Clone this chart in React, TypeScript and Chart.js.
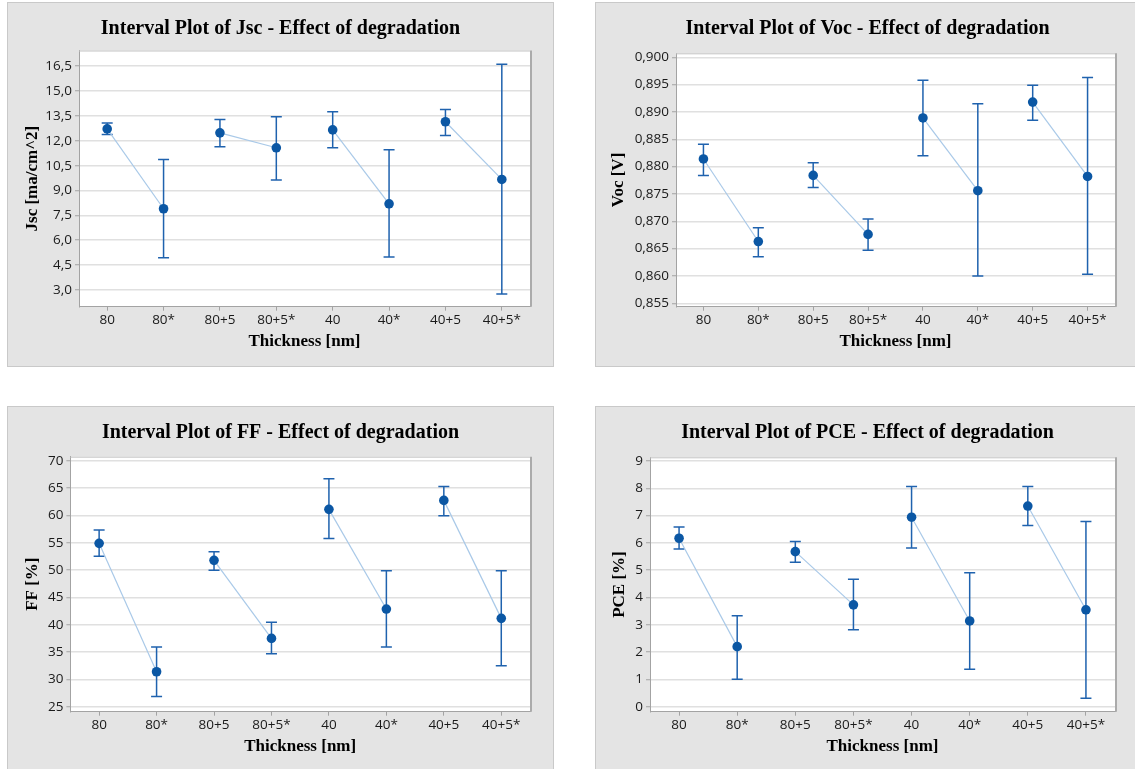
import React, { useEffect, useRef } from 'react';
import { Chart, registerables } from 'chart.js';

Chart.register(...registerables);

// ---------- data ----------
const categories = ['80', '80*', '80+5', '80+5*', '40', '40*', '40+5', '40+5*'];

const jscMean = [12.72, 7.9, 12.48, 11.58, 12.66, 8.2, 13.15, 9.67];
const jscLower = [12.38, 4.95, 11.64, 9.63, 11.58, 4.99, 12.32, 2.76];
const jscUpper = [13.07, 10.88, 13.29, 13.45, 13.75, 11.46, 13.89, 16.62];
const jscTicks = [3.0, 4.5, 6.0, 7.5, 9.0, 10.5, 12.0, 13.5, 15.0, 16.5];
const jscRange = [1.99, 17.45];

const vocMean = [0.8814, 0.8663, 0.8784, 0.8676, 0.8889, 0.8756, 0.8918, 0.8782];
const vocLower = [0.8784, 0.8635, 0.8762, 0.8647, 0.882, 0.86, 0.8885, 0.8603];
const vocUpper = [0.8841, 0.8688, 0.8807, 0.8704, 0.8958, 0.8915, 0.8949, 0.8963];
const vocTicks = [0.855, 0.86, 0.865, 0.87, 0.875, 0.88, 0.885, 0.89, 0.895, 0.9];
const vocRange = [0.85438, 0.90073];

const ffMean = [54.88, 31.4, 51.77, 37.5, 61.1, 42.87, 62.74, 41.16];
const ffLower = [52.5, 26.89, 49.94, 34.7, 55.79, 35.91, 59.94, 32.5];
const ffUpper = [57.32, 35.91, 53.35, 40.43, 66.71, 49.88, 65.3, 49.88];
const ffTicks = [25, 30, 35, 40, 45, 50, 55, 60, 65, 70];
const ffRange = [24.09, 70.73];

const pceMean = [6.17, 2.2, 5.68, 3.73, 6.94, 3.14, 7.35, 3.55];
const pceLower = [5.78, 1.01, 5.29, 2.82, 5.81, 1.37, 6.64, 0.31];
const pceUpper = [6.58, 3.33, 6.05, 4.67, 8.07, 4.91, 8.07, 6.78];
const pceTicks = [0, 1, 2, 3, 4, 5, 6, 7, 8, 9];
const pceRange = [-0.183, 9.135];

// ---------- styles ----------
const LINE_COLOR = '#a9c9e8';
const POINT_COLOR = '#0b57a4';
const BAR_COLOR = '#1f62ae';
const AXIS_COLOR = '#a3a3a3';
const GRID_COLOR = '#e0e0e0';
const TICK_FONT = { family: "'Open Sans', 'Noto Sans', sans-serif", size: 13.5 };
const SERIF = "'Liberation Serif', 'DejaVu Serif', serif";

type Box = { left: number; top: number; width: number; height: number };
type Plot = { left: number; top: number; right: number; bottom: number };

type PanelProps = {
  title: string;
  yTitle: string;
  mean: number[];
  lower: number[];
  upper: number[];
  ticks: number[];
  range: number[];
  fmt: (v: number) => string;
  box: Box;
  plot: Plot;
  titleY: number;
  yTitleX: number;
  xTitleY: number;
};

function Panel(p: PanelProps) {
  const ref = useRef<HTMLCanvasElement>(null);
  const cx = p.box.left + 1;
  const cy = p.box.top + 1;
  const cw = p.box.width - 2;
  const ch = p.box.height - 2;

  useEffect(() => {
    if (!ref.current) return;
    const plotLeft = p.plot.left - cx;
    const plotTop = p.plot.top - cy;
    const plotRightPad = cw - (p.plot.right - cx);
    const plotBottom = p.plot.bottom - cy;
    const yTitlePad = p.yTitleX - cx - 10.2;
    const xTitlePad = ch - (p.xTitleY - cy) - 10.2;

    const bgPlugin = {
      id: 'plotBg',
      beforeDraw(chart: any) {
        const { ctx, chartArea: a } = chart;
        ctx.save();
        ctx.fillStyle = '#ffffff';
        ctx.fillRect(a.left, a.top, a.right - a.left, a.bottom - a.top);
        ctx.restore();
      },
    };

    const errPlugin = {
      id: 'errBars',
      beforeDatasetsDraw(chart: any) {
        const { ctx } = chart;
        const xs = chart.scales.x;
        const ys = chart.scales.y;
        const cap = 5.5;
        ctx.save();
        ctx.strokeStyle = BAR_COLOR;
        ctx.lineWidth = 1.5;
        p.lower.forEach((lo, i) => {
          const px = xs.getPixelForValue(i);
          const pl = ys.getPixelForValue(lo);
          const ph = ys.getPixelForValue(p.upper[i]);
          ctx.beginPath();
          ctx.moveTo(px, pl);
          ctx.lineTo(px, ph);
          ctx.moveTo(px - cap, pl);
          ctx.lineTo(px + cap, pl);
          ctx.moveTo(px - cap, ph);
          ctx.lineTo(px + cap, ph);
          ctx.stroke();
        });
        ctx.restore();
      },
    };

    const framePlugin = {
      id: 'frame',
      beforeDatasetsDraw(chart: any) {
        const { ctx, chartArea: a } = chart;
        ctx.save();
        ctx.strokeStyle = '#c4c4c4';
        ctx.lineWidth = 1;
        ctx.beginPath();
        ctx.moveTo(a.left, a.top + 0.5);
        ctx.lineTo(a.right, a.top + 0.5);
        ctx.stroke();
        ctx.strokeStyle = '#ababab';
        ctx.lineWidth = 2;
        ctx.beginPath();
        ctx.moveTo(a.right + 1, a.top);
        ctx.lineTo(a.right + 1, a.bottom);
        ctx.stroke();
        ctx.restore();
      },
    };

    const titlePlugin = {
      id: 'mainTitle',
      afterDraw(chart: any) {
        const { ctx } = chart;
        ctx.save();
        ctx.font = `bold 20px ${SERIF}`;
        ctx.fillStyle = '#000000';
        ctx.textAlign = 'center';
        ctx.textBaseline = 'middle';
        ctx.fillText(p.title, chart.width / 2, p.titleY - cy);
        ctx.restore();
      },
    };

    const chart = new Chart(ref.current, {
      type: 'line',
      data: {
        labels: categories,
        datasets: [
          {
            data: p.mean,
            borderColor: LINE_COLOR,
            borderWidth: 1.2,
            tension: 0,
            segment: {
              borderColor: (c: any) => (c.p0DataIndex % 2 === 0 ? LINE_COLOR : 'rgba(0,0,0,0)'),
            },
            pointRadius: 4.8,
            pointHoverRadius: 4.8,
            pointBackgroundColor: POINT_COLOR,
            pointBorderColor: POINT_COLOR,
            pointBorderWidth: 0,
          },
        ],
      },
      options: {
        responsive: false,
        animation: false,
        devicePixelRatio: 1,
        events: [],
        layout: { padding: { left: 0, top: plotTop, right: plotRightPad, bottom: 0 } },
        plugins: {
          legend: { display: false },
          tooltip: { enabled: false },
          title: { display: false },
        },
        scales: {
          x: {
            type: 'category',
            offset: true,
            afterFit: (s: any) => {
              s.height = ch - plotBottom;
            },
            grid: {
              drawOnChartArea: false,
              drawTicks: true,
              tickLength: 4,
              tickColor: AXIS_COLOR,
              offset: false,
            },
            border: { display: true, color: AXIS_COLOR, width: 1 },
            ticks: {
              autoSkip: false,
              maxRotation: 0,
              padding: 1,
              color: '#1a1a1a',
              font: TICK_FONT,
            },
            title: {
              display: true,
              text: 'Thickness [nm]',
              color: '#000000',
              font: { family: SERIF, size: 17, weight: 'bold' },
              padding: { top: 0, bottom: xTitlePad },
            },
          },
          y: {
            type: 'linear',
            min: p.range[0],
            max: p.range[1],
            afterFit: (s: any) => {
              s.width = plotLeft;
            },
            afterBuildTicks: (s: any) => {
              s.ticks = p.ticks.map((v) => ({ value: v }));
            },
            grid: {
              color: GRID_COLOR,
              lineWidth: 1.5,
              drawTicks: true,
              tickLength: 4,
              tickColor: AXIS_COLOR,
              tickWidth: 1,
            },
            border: { display: true, color: AXIS_COLOR, width: 1 },
            ticks: {
              padding: 3,
              color: '#1a1a1a',
              font: TICK_FONT,
              callback: (v: any) => p.fmt(Number(v)),
            },
            title: {
              display: true,
              text: p.yTitle,
              color: '#000000',
              font: { family: SERIF, size: 17, weight: 'bold' },
              padding: { top: yTitlePad, bottom: 0 },
            },
          },
        },
      },
      plugins: [bgPlugin, errPlugin, framePlugin, titlePlugin],
    } as any);
    return () => chart.destroy();
  }, []);

  return (
    <div
      style={{
        position: 'absolute',
        left: p.box.left,
        top: p.box.top,
        width: p.box.width,
        height: p.box.height,
        background: '#e4e4e4',
        border: '1px solid #c9c9c9',
        boxSizing: 'border-box',
      }}
    >
      <canvas
        ref={ref}
        width={cw}
        height={ch}
        style={{ position: 'absolute', left: 0, top: 0, width: cw, height: ch }}
      />
    </div>
  );
}

const comma = (d: number) => (v: number) => v.toFixed(d).replace('.', ',');

export default function App() {
  return (
    <div
      style={{
        position: 'absolute',
        left: 0,
        top: 0,
        width: 1135,
        height: 769,
        overflow: 'hidden',
        background: '#ffffff',
      }}
    >
      <Panel
        title="Interval Plot of Jsc - Effect of degradation"
        yTitle="Jsc [ma/cm^2]"
        mean={jscMean}
        lower={jscLower}
        upper={jscUpper}
        ticks={jscTicks}
        range={jscRange}
        fmt={comma(1)}
        box={{ left: 7, top: 2, width: 547, height: 365 }}
        plot={{ left: 79, top: 50.5, right: 530, bottom: 306.7 }}
        titleY={29.3}
        yTitleX={32.3}
        xTitleY={341.7}
      />
      <Panel
        title="Interval Plot of Voc - Effect of degradation"
        yTitle="Voc [V]"
        mean={vocMean}
        lower={vocLower}
        upper={vocUpper}
        ticks={vocTicks}
        range={vocRange}
        fmt={comma(3)}
        box={{ left: 595, top: 2, width: 545, height: 365 }}
        plot={{ left: 676, top: 53.3, right: 1115, bottom: 306.7 }}
        titleY={29.3}
        yTitleX={618.6}
        xTitleY={341.7}
      />
      <Panel
        title="Interval Plot of FF - Effect of degradation"
        yTitle="FF [%]"
        mean={ffMean}
        lower={ffLower}
        upper={ffUpper}
        ticks={ffTicks}
        range={ffRange}
        fmt={comma(0)}
        box={{ left: 7, top: 406, width: 547, height: 365 }}
        plot={{ left: 70.4, top: 456.7, right: 530, bottom: 711.7 }}
        titleY={433.3}
        yTitleX={32.3}
        xTitleY={746.7}
      />
      <Panel
        title="Interval Plot of PCE - Effect of degradation"
        yTitle="PCE [%]"
        mean={pceMean}
        lower={pceLower}
        upper={pceUpper}
        ticks={pceTicks}
        range={pceRange}
        fmt={comma(0)}
        box={{ left: 595, top: 406, width: 545, height: 365 }}
        plot={{ left: 650, top: 457.3, right: 1115, bottom: 711.7 }}
        titleY={433}
        yTitleX={619.7}
        xTitleY={746.7}
      />
    </div>
  );
}
